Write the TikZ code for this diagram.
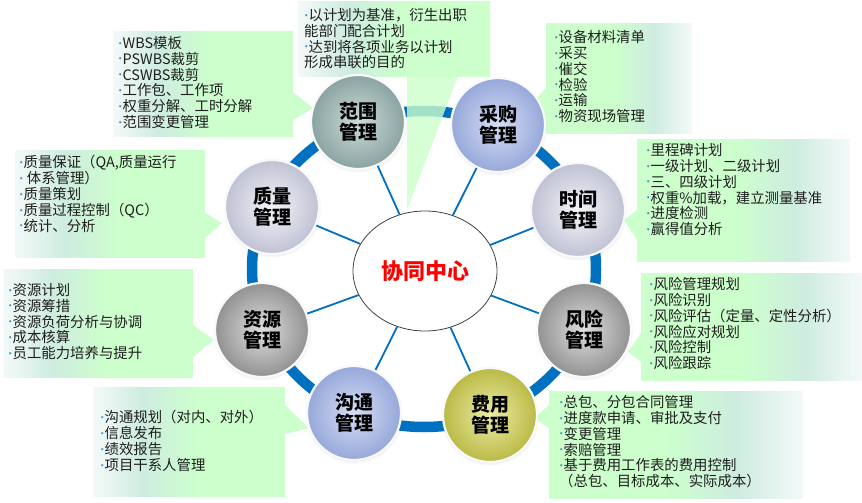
\documentclass[tikz,border=0pt]{standalone}
\usepackage{fontspec}
\setmainfont{Noto Sans CJK SC}
\newfontfamily\dotfont{DejaVu Sans}
\usetikzlibrary{shapes.geometric,shadows,positioning}
\definecolor{ringblue}{RGB}{0,112,192}
\definecolor{calgreen}{RGB}{204,255,204}
\definecolor{calmid}{RGB}{206,236,224}
\definecolor{calwhite}{RGB}{244,249,249}
\definecolor{dotblue}{RGB}{60,150,200}
\definecolor{txtgray}{RGB}{30,30,30}
\pgfdeclarehorizontalshading{calL}{100bp}{color(0bp)=(calwhite); color(25bp)=(calwhite); color(38bp)=(calmid); color(52bp)=(calgreen); color(100bp)=(calgreen)}
\pgfdeclarehorizontalshading{calR}{100bp}{color(0bp)=(calgreen); color(48bp)=(calgreen); color(62bp)=(calmid); color(75bp)=(calwhite); color(100bp)=(calwhite)}
\newcommand{\itm}{\raisebox{2.2pt}{\textcolor{dotblue}{\dotfont\fontsize{7.5}{7.5}\selectfont •}}}

\begin{document}
\begin{tikzpicture}[x=1pt, y=-1pt, font=\fontsize{14.4}{15.9}\selectfont,
  ball/.style={circle, minimum size=94pt, inner sep=0pt, draw=white!95!gray, line width=2.2pt, shading=radial,
    circular drop shadow={shadow xshift=0pt, shadow yshift=-1.5pt, opacity=0.25, shadow scale=1.05},
    align=center, font=\fontsize{19}{21}\selectfont\bfseries},
  hub/.style={ellipse, draw=black!75, line width=0.8pt, fill=white, minimum width=144pt, minimum height=120pt,
    text=red, font=\fontsize{22}{24}\selectfont\bfseries},
  boxL/.style={shading=calL},
  boxR/.style={shading=calR},
  wedge/.style={fill=calgreen},
  note/.style={anchor=north west, inner sep=0pt, align=left, text=txtgray},
  ring/.style={draw=ringblue, line width=10.5pt},
  spoke/.style={draw=ringblue, line width=1.8pt}]
\useasboundingbox (0,0) rectangle (862,503);

% ring
\coordinate (ringc) at (424,269);
\draw[ring] (ringc) ellipse [x radius=172, y radius=158];

% callouts, left side
\shade[boxL] (113,32) rectangle (293,136);
\fill[wedge] (293,92) -- (313,108) -- (293,120) -- cycle;
\node[note] (fwtxt) at (118,36) {\itm WBS模板\\\itm PSWBS裁剪\\\itm CSWBS裁剪\\\itm 工作包、工作项\\\itm 权重分解、工时分解\\\itm 范围变更管理};

\shade[boxL] (15,150) rectangle (205,257);
\fill[wedge] (205,213) -- (222,223) -- (205,238) -- cycle;
\node[note] (zltxt) at (19,155) {\itm 质量保证（QA,质量运行\\\itm{} 体系管理）\\\itm 质量策划\\\itm 质量过程控制（QC）\\\itm 统计、分析};

\shade[boxL] (3,269) rectangle (193,377);
\fill[wedge] (193,325) -- (214,340) -- (193,357) -- cycle;
\node[note] (zytxt) at (8,283) {\itm 资源计划\\\itm 资源筹措\\\itm 资源负荷分析与协调\\\itm 成本核算\\\itm 员工能力培养与提升};

\shade[boxL] (93,387) rectangle (285,496);
\fill[wedge] (285,405) -- (309,428) -- (285,434) -- cycle;
\node[note] (gttxt) at (100,410) {\itm 沟通规划（对内、对外）\\\itm 信息发布\\\itm 绩效报告\\\itm 项目干系人管理};

% callout to the hub
\shade[boxL] (298,2) rectangle (490,77);
\fill[wedge, fill opacity=0.8] (407,76) -- (458,76) -- (407,210) -- cycle;
\node[note] (hubtxt) at (304,8) {\itm 以计划为基准，衍生出职\\能部门配合计划\\\itm 达到将各项业务以计划\\形成串联的目的};

% callouts, right side
\shade[boxR] (546,24) rectangle (692,133);
\fill[wedge] (546,88) -- (533,102) -- (546,120) -- cycle;
\node[note] (cgtxt) at (554,30) {\itm 设备材料清单\\\itm 采买\\\itm 催交\\\itm 检验\\\itm 运输\\\itm 物资现场管理};

\shade[boxR] (637,139) rectangle (850,261);
\fill[wedge] (637,210) -- (624,220) -- (637,240) -- cycle;
\node[note] (sjtxt) at (646,143) {\itm 里程碑计划\\\itm 一级计划、二级计划\\\itm 三、四级计划\\\itm 权重\%加载，建立测量基准\\\itm 进度检测\\\itm 赢得值分析};

\shade[boxR] (641,273) rectangle (862,380);
\fill[wedge] (641,333) -- (628,352) -- (641,362) -- cycle;
\node[note] (fxtxt) at (649,277) {\itm 风险管理规划\\\itm 风险识别\\\itm 风险评估（定量、定性分析）\\\itm 风险应对规划\\\itm 风险控制\\\itm 风险跟踪};

\shade[boxR] (549,391) rectangle (803,498);
\fill[wedge] (549,405) -- (534,418) -- (549,428) -- cycle;
\node[note] (fytxt) at (559,395) {\itm 总包、分包合同管理\\\itm 进度款申请、审批及支付\\\itm 变更管理\\\itm 索赔管理\\\itm 基于费用工作表的费用控制\\（总包、目标成本、实际成本）};

% hub and the eight areas
\node[hub] (hub) at (425,271) {协同中心};
\node[ball, inner color={rgb,255:red,204;green,218;blue,216}, outer color={rgb,255:red,138;green,164;blue,161}] (fw) at (358,122) {范围\\管理};
\node[ball, inner color={rgb,255:red,214;green,222;blue,244}, outer color={rgb,255:red,150;green,168;blue,218}] (cg) at (498,125) {采购\\管理};
\node[ball, inner color={rgb,255:red,244;green,244;blue,248}, outer color={rgb,255:red,192;green,194;blue,212}] (sj) at (578,210) {时间\\管理};
\node[ball, inner color={rgb,255:red,222;green,222;blue,222}, outer color={rgb,255:red,146;green,146;blue,146}] (fx) at (584,330) {风险\\管理};
\node[ball, inner color={rgb,255:red,236;green,236;blue,165}, outer color={rgb,255:red,186;green,186;blue,70}] (fy) at (490,415) {费用\\管理};
\node[ball, inner color={rgb,255:red,214;green,222;blue,244}, outer color={rgb,255:red,150;green,168;blue,218}] (gt) at (354,413) {沟通\\管理};
\node[ball, inner color={rgb,255:red,222;green,222;blue,222}, outer color={rgb,255:red,146;green,146;blue,146}] (zy) at (262,330) {资源\\管理};
\node[ball, inner color={rgb,255:red,244;green,244;blue,248}, outer color={rgb,255:red,192;green,194;blue,212}] (zl) at (272,207) {质量\\管理};

% spokes
\draw[spoke] (hub) -- (fw);
\draw[spoke] (hub) -- (cg);
\draw[spoke] (hub) -- (sj);
\draw[spoke] (hub) -- (fx);
\draw[spoke] (hub) -- (fy);
\draw[spoke] (hub) -- (gt);
\draw[spoke] (hub) -- (zy);
\draw[spoke] (hub) -- (zl);
\end{tikzpicture}
\end{document}
